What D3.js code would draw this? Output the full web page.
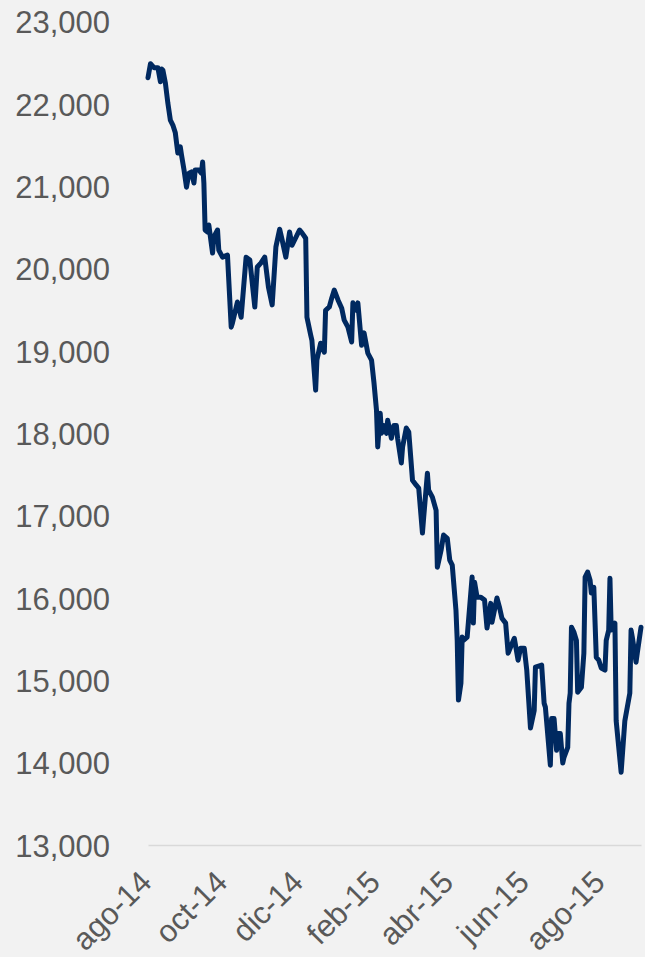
<!DOCTYPE html>
<html>
<head>
<meta charset="utf-8">
<script src="https://cdn.jsdelivr.net/npm/d3@7"></script>
<style>
  body { margin: 0; background: #f2f2f2; }
  svg { display: block; }
  .axis text { font-family: "Liberation Sans", Arial, sans-serif; font-size: 31px; fill: #595959; }
</style>
</head>
<body>
<div id="vis-container"></div>
<script>
// daily index level
var dates = [
  "2014-08-01","2014-08-03","2014-08-06","2014-08-09","2014-08-11","2014-08-12","2014-08-13","2014-08-15",
  "2014-08-17","2014-08-19","2014-08-21","2014-08-23","2014-08-25","2014-08-27","2014-08-28","2014-08-30",
  "2014-09-01","2014-09-03","2014-09-05","2014-09-07","2014-09-08","2014-09-11","2014-09-13","2014-09-14",
  "2014-09-15","2014-09-16","2014-09-18","2014-09-19","2014-09-22","2014-09-23","2014-09-26","2014-09-27",
  "2014-09-30","2014-10-04","2014-10-07","2014-10-08","2014-10-12","2014-10-15","2014-10-19","2014-10-22",
  "2014-10-26","2014-10-28","2014-10-31","2014-11-03","2014-11-06","2014-11-09","2014-11-12","2014-11-15",
  "2014-11-17","2014-11-20","2014-11-23","2014-11-25","2014-12-01","2014-12-03","2014-12-06","2014-12-07",
  "2014-12-10","2014-12-11","2014-12-14","2014-12-15","2014-12-18","2014-12-21","2014-12-22","2014-12-25",
  "2014-12-27","2014-12-29","2015-01-01","2015-01-04","2015-01-06","2015-01-09","2015-01-12","2015-01-13",
  "2015-01-16","2015-01-17","2015-01-20","2015-01-22","2015-01-25","2015-01-28","2015-01-30","2015-02-01",
  "2015-02-02","2015-02-04","2015-02-05","2015-02-07","2015-02-09","2015-02-10","2015-02-13","2015-02-15",
  "2015-02-17","2015-02-18","2015-02-21","2015-02-22","2015-02-25","2015-02-27","2015-03-02","2015-03-05",
  "2015-03-07","2015-03-10","2015-03-11","2015-03-14","2015-03-15","2015-03-18","2015-03-21","2015-03-22",
  "2015-03-25","2015-03-27","2015-03-30","2015-04-01","2015-04-03","2015-04-06","2015-04-07","2015-04-08",
  "2015-04-10","2015-04-11","2015-04-12","2015-04-15","2015-04-19","2015-04-20","2015-04-21","2015-04-23",
  "2015-04-26","2015-04-29","2015-05-01","2015-05-04","2015-05-05","2015-05-09","2015-05-11","2015-05-13",
  "2015-05-16","2015-05-18","2015-05-20","2015-05-23","2015-05-26","2015-05-28","2015-05-31","2015-06-02",
  "2015-06-05","2015-06-08","2015-06-09","2015-06-14","2015-06-16","2015-06-17","2015-06-21","2015-06-22",
  "2015-06-24","2015-06-26","2015-06-27","2015-06-29","2015-07-01","2015-07-02","2015-07-05","2015-07-06",
  "2015-07-07","2015-07-08","2015-07-10","2015-07-12","2015-07-13","2015-07-16","2015-07-18","2015-07-19",
  "2015-07-21","2015-07-23","2015-07-24","2015-07-26","2015-07-28","2015-07-30","2015-08-01","2015-08-04",
  "2015-08-05","2015-08-07","2015-08-08","2015-08-09","2015-08-12","2015-08-13","2015-08-17","2015-08-20",
  "2015-08-24","2015-08-25","2015-08-26","2015-08-29","2015-08-30","2015-09-02"
];
var values = [
  22320,22490,22440,22440,22270,22425,22410,22255,
  22010,21805,21745,21650,21405,21480,21380,21200,
  20990,21160,21175,21040,21200,21200,21160,21295,
  21040,20470,20445,20530,20190,20385,20470,20225,
  20140,20165,19290,19340,19595,19410,20140,20105,
  19535,20020,20070,20140,19775,19560,20265,20480,
  20350,20140,20445,20285,20470,20435,20370,19410,
  19195,19130,18525,18890,19095,18985,19495,19535,
  19645,19740,19620,19520,19375,19290,19110,19585,
  19495,19585,19070,19220,18975,18890,18610,18280,
  17835,18245,18000,18095,18000,18160,17940,18095,
  18095,17940,17640,17835,18065,18015,17430,17370,
  17335,16790,16980,17515,17310,17225,17065,16375,
  16580,16765,16725,16460,16400,15850,15485,14760,
  14965,15525,15485,15525,16255,15695,16190,16010,
  16010,15975,15635,15935,15705,16000,15890,15755,
  15695,15330,15405,15510,15245,15390,15390,15125,
  14420,14635,15160,15185,14720,14675,13970,14535,
  14535,14150,14355,14355,13995,14065,14185,14720,
  14845,15645,15585,15485,14855,14915,15330,16255,
  16315,16215,16060,16130,15280,15245,15150,15125,
  15485,15610,16240,15610,15695,14510,13885,14510,
  14845,15610,15525,15220,15330,15645
];
var yTicks = [13000,14000,15000,16000,17000,18000,19000,20000,21000,22000,23000];
var xTickDates = ["2014-08-01","2014-10-01","2014-12-01","2015-02-01","2015-04-01","2015-06-01","2015-08-01"];
var xTickLabels = ["ago-14","oct-14","dic-14","feb-15","abr-15","jun-15","ago-15"];

var parse = d3.timeParse("%Y-%m-%d");
var data = dates.map(function(d, i) { return { date: parse(d), value: values[i] }; });

var W = 645, H = 957;
var plotLeft = 148, plotRight = 641, plotTop = 21.7, plotBottom = 845;

var svg = d3.select("#vis-container")
  .append("svg")
    .attr("width", W)
    .attr("height", H);

svg.append("rect")
  .attr("width", W).attr("height", H)
  .attr("fill", "#f2f2f2");

var xScale = d3.scaleTime()
  .domain([parse("2014-08-01"), parse("2015-09-02")])
  .range([plotLeft, plotRight]);

var yScale = d3.scaleLinear()
  .domain([13000, 23000])
  .range([plotBottom, plotTop]);

// y axis: labels only
var yAxis = d3.axisLeft(yScale)
  .tickValues(yTicks)
  .tickFormat(d3.format(","))
  .tickSize(0)
  .tickPadding(38);

var gy = svg.append("g")
  .attr("class", "axis y")
  .attr("transform", "translate(" + plotLeft + ",0)")
  .call(yAxis);
gy.select(".domain").remove();
gy.selectAll("text").attr("dy", "0.36em");

// x axis
var xAxis = d3.axisBottom(xScale)
  .tickValues(xTickDates.map(parse))
  .tickFormat(function(d, i) { return xTickLabels[i]; })
  .tickSize(0)
  .tickSizeOuter(0);

var gx = svg.append("g")
  .attr("class", "axis x")
  .attr("transform", "translate(0," + plotBottom + ")")
  .call(xAxis);
gx.select(".domain")
  .attr("stroke", "#d9d9d9")
  .attr("stroke-width", 1.5);
gx.selectAll("text")
  .attr("y", 0)
  .attr("dy", 0)
  .attr("text-anchor", "end")
  .attr("transform", "translate(5,39) rotate(-45)");

var line = d3.line()
  .x(function(d) { return xScale(d.date); })
  .y(function(d) { return yScale(d.value); });

svg.append("path")
  .datum(data)
  .attr("fill", "none")
  .attr("stroke", "#002960")
  .attr("stroke-width", 5)
  .attr("stroke-linejoin", "round")
  .attr("stroke-linecap", "round")
  .attr("d", line);
</script>
</body>
</html>
